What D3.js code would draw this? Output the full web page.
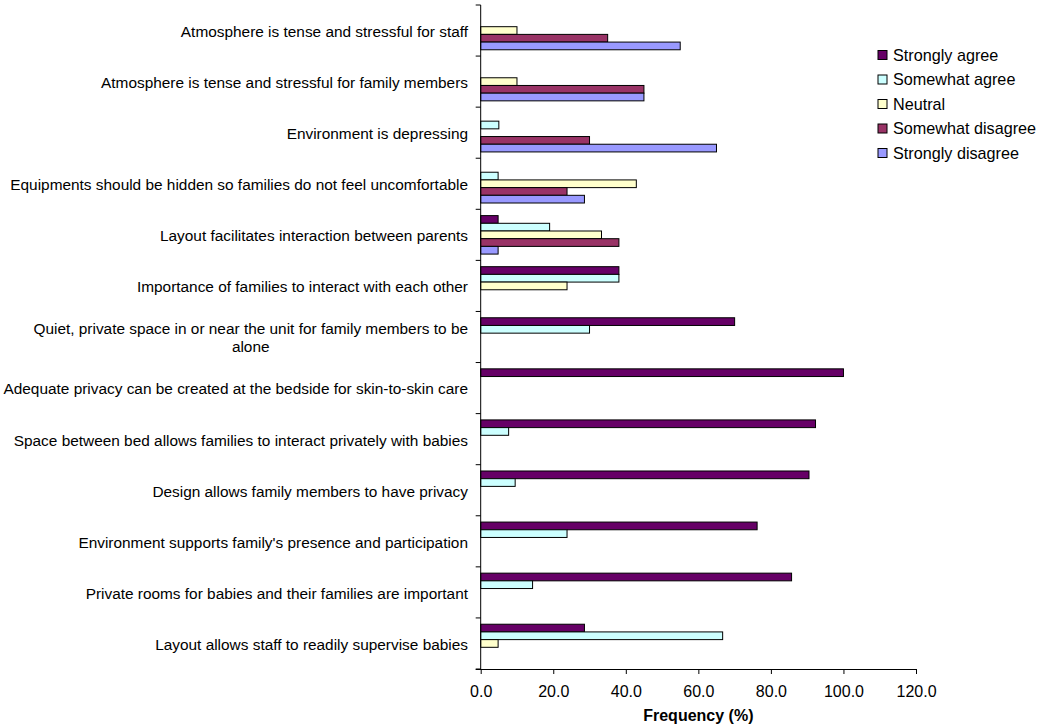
<!DOCTYPE html>
<html>
<head>
<meta charset="utf-8">
<script src="https://cdn.jsdelivr.net/npm/d3@7"></script>
<style>
  html, body { margin: 0; padding: 0; background: #fff; }
  svg { display: block; font-family: "Liberation Sans", Arial, sans-serif; }
</style>
</head>
<body>
<svg id="chart" width="1045" height="726"></svg>
<script>
// Categories, top to bottom ("\n" marks the label's line break)
const categories = [
  "Atmosphere is tense and stressful for staff",
  "Atmosphere is tense and stressful for family members",
  "Environment is depressing",
  "Equipments should be hidden so families do not feel uncomfortable",
  "Layout facilitates interaction between parents",
  "Importance of families to interact with each other",
  "Quiet, private space in or near the unit for family members to be\nalone",
  "Adequate privacy can be created at the bedside for skin-to-skin care",
  "Space between bed allows families to interact privately with babies",
  "Design allows family members to have privacy",
  "Environment supports family's presence and participation",
  "Private rooms for babies and their families are important",
  "Layout allows staff to readily supervise babies"
];

const seriesNames = ["Strongly agree", "Somewhat agree", "Neutral", "Somewhat disagree", "Strongly disagree"];
const seriesColors = ["#660066", "#CCFFFF", "#FFFFCC", "#993366", "#9999FF"];

const stronglyAgree     = [0, 0, 0, 0, 4.8, 38.1, 70.0, 100.0, 92.3, 90.5, 76.2, 85.7, 28.6];
const somewhatAgree     = [0, 0, 5.0, 4.8, 19.0, 38.1, 30.0, 0, 7.7, 9.5, 23.8, 14.3, 66.7];
const neutral           = [10.0, 10.0, 0, 42.9, 33.3, 23.8, 0, 0, 0, 0, 0, 0, 4.8];
const somewhatDisagree  = [35.0, 45.0, 30.0, 23.8, 38.1, 0, 0, 0, 0, 0, 0, 0, 0];
const stronglyDisagree  = [55.0, 45.0, 65.0, 28.6, 4.8, 0, 0, 0, 0, 0, 0, 0, 0];

const xTicks = [0, 20, 40, 60, 80, 100, 120];
const xTitle = "Frequency (%)";

const seriesValues = [stronglyAgree, somewhatAgree, neutral, somewhatDisagree, stronglyDisagree];

const svg = d3.select("#chart");
const plot = { left: 480.7, right: 916, top: 5, bottom: 669 };

const x = d3.scaleLinear().domain([0, 120]).range([plot.left, plot.right]);
const y = d3.scaleBand().domain(categories).range([plot.top, plot.bottom]).padding(0);
const inner = d3.scaleBand().domain(seriesNames)
  .range([6.3, y.bandwidth() - 6.3]).padding(0);

// bars
const barData = [];
seriesNames.forEach((s, si) => {
  categories.forEach((c, ci) => {
    const v = seriesValues[si][ci];
    if (v > 0) barData.push({ s, si, c, v });
  });
});

svg.append("g").selectAll("rect").data(barData).join("rect")
  .attr("x", x(0))
  .attr("y", d => y(d.c) + inner(d.s))
  .attr("width", d => x(d.v) - x(0))
  .attr("height", inner.bandwidth())
  .attr("fill", d => seriesColors[d.si])
  .attr("stroke", "#000")
  .attr("stroke-width", 1);

// y axis (ticks at category boundaries)
const yAxisG = svg.append("g");
yAxisG.append("line")
  .attr("x1", x(0)).attr("x2", x(0))
  .attr("y1", plot.top).attr("y2", plot.bottom)
  .attr("stroke", "#000").attr("stroke-width", 1);
const boundaries = categories.map(c => y(c)).concat([plot.bottom]);
yAxisG.selectAll("line.tick").data(boundaries).join("line")
  .attr("class", "tick")
  .attr("x1", x(0) - 5).attr("x2", x(0))
  .attr("y1", d => d).attr("y2", d => d)
  .attr("stroke", "#000");

// category labels
const labelG = svg.append("g")
  .attr("font-size", "15.4px").attr("fill", "#000");
categories.forEach(c => {
  const lines = c.split("\n");
  const cy = y(c) + y.bandwidth() / 2 + 1;
  const lh = 18;
  const t = labelG.append("text").attr("text-anchor", "end");
  const first = t.append("tspan")
    .attr("x", 468)
    .attr("y", cy - (lines.length - 1) * lh / 2)
    .attr("dy", "0.35em")
    .text(lines[0]);
  if (lines.length > 1) {
    const w = first.node().getComputedTextLength();
    const center = 468 - w / 2;
    for (let i = 1; i < lines.length; i++) {
      labelG.append("text").attr("text-anchor", "middle")
        .attr("x", center)
        .attr("y", cy - (lines.length - 1) * lh / 2 + i * lh)
        .attr("dy", "0.35em")
        .text(lines[i]);
    }
  }
});

// x axis
const xAxis = d3.axisBottom(x).tickValues(xTicks).tickFormat(d3.format(".1f"))
  .tickSizeInner(5).tickSizeOuter(0).tickPadding(12);
const xg = svg.append("g").attr("transform", `translate(0,${plot.bottom})`).call(xAxis);
xg.select(".domain").attr("d", `M${x(0) - 5},0.5H${plot.right}`).attr("stroke", "#000");
xg.selectAll(".tick line").attr("stroke", "#000");
xg.selectAll(".tick text").attr("font-size", "16px")
  .attr("font-family", "\"Liberation Sans\", Arial, sans-serif").attr("fill", "#000");

svg.append("text")
  .attr("x", (x(0) + x(120)) / 2 - 0)
  .attr("y", 715).attr("dy", "0.35em")
  .attr("text-anchor", "middle")
  .attr("font-size", "16px").attr("font-weight", "bold")
  .text(xTitle);

// legend
const legend = svg.append("g");
seriesNames.forEach((s, i) => {
  const cy = 55 + i * 24.5;
  legend.append("rect")
    .attr("x", 878).attr("y", cy - 4.5)
    .attr("width", 9).attr("height", 9)
    .attr("fill", seriesColors[i]).attr("stroke", "#000");
  legend.append("text")
    .attr("x", 893).attr("y", cy).attr("dy", "0.35em")
    .attr("font-size", "16.2px")
    .text(s);
});
</script>
</body>
</html>
